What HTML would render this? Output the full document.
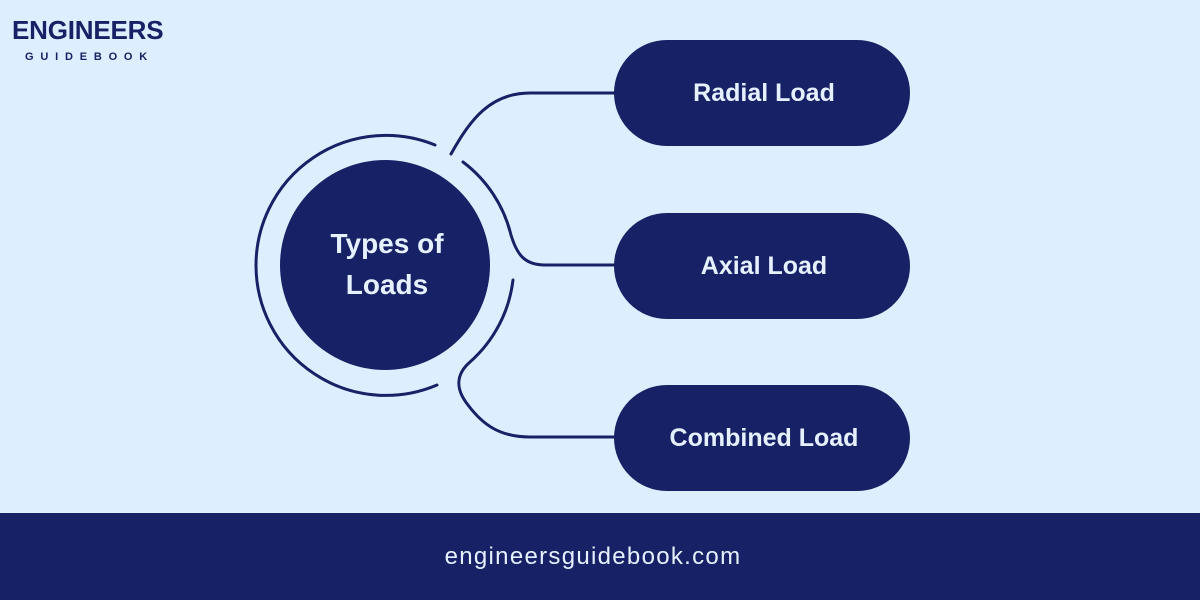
<!DOCTYPE html>
<html><head><meta charset="utf-8"><style>
body{margin:0;width:1200px;height:600px;background:#ddefff;font-family:"Liberation Sans",sans-serif;overflow:hidden;position:relative}
.pill{position:absolute;left:614px;width:296px;height:106px;border-radius:53px;background:#172165;color:#e6f1ff;font-weight:bold;font-size:25px;display:flex;align-items:center;justify-content:center;padding-left:4px;box-sizing:border-box}
</style></head><body>
<div style="position:absolute;left:12px;top:15px;color:#172165;font-weight:bold;font-size:26px;letter-spacing:-0.2px">ENGINEERS</div>
<div style="position:absolute;left:25px;top:51px;color:#172165;font-weight:bold;font-size:11px;letter-spacing:6.8px">GUIDEBOOK</div>
<svg width="1200" height="600" style="position:absolute;left:0;top:0">
<g fill="none" stroke="#172165" stroke-width="3" stroke-linecap="round">
<path d="M435,145 A130,130 0 1 0 437,385"/>
<path d="M463,162 A130,130 0 0 1 511,235 C517,255 525,265 545,265 L615,265"/>
<path d="M451,154 C470,120 490,93 530,93 L615,93"/>
<path d="M513,280 A130,130 0 0 1 470,362 C455,375 456,390 468,405 C483,425 500,437 530,437 L615,437"/>
</g>
<circle cx="385" cy="265" r="105" fill="#172165"/>
<text x="387" y="253" text-anchor="middle" fill="#e6f1ff" font-family="Liberation Sans" font-weight="bold" font-size="28">Types of</text>
<text x="387" y="294" text-anchor="middle" fill="#e6f1ff" font-family="Liberation Sans" font-weight="bold" font-size="28">Loads</text>
</svg>
<div class="pill" style="top:40px">Radial Load</div>
<div class="pill" style="top:213px">Axial Load</div>
<div class="pill" style="top:385px">Combined Load</div>
<div style="position:absolute;left:0;top:513px;width:1186px;height:87px;padding-right:14px;background:#172165;color:#e6f1ff;font-size:24px;letter-spacing:1.3px;display:flex;align-items:center;justify-content:center">engineersguidebook.com</div>
</body></html>
